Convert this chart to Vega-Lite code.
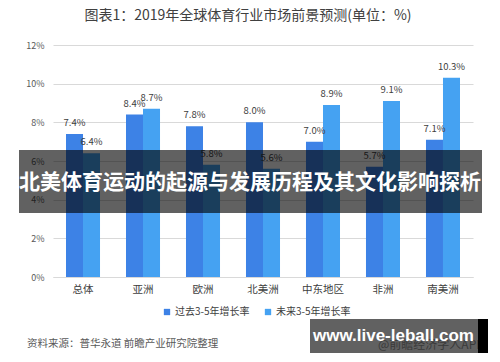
{
  "$schema": "https://vega.github.io/schema/vega-lite/v6.json",
  "autosize": "none",
  "width": 420,
  "height": 232,
  "padding": {"left": 53, "top": 45, "right": 27, "bottom": 85},
  "background": "white",
  "config": {
    "view": {"stroke": null},
    "font": "Noto Sans CJK SC",
    "axis": {"labelFont": "Noto Sans CJK SC"},
    "legend": {"labelFont": "Noto Sans CJK SC"}
  },
  "title": {
    "text": "图表1：2019年全球体育行业市场前景预测(单位：%)",
    "font": "Noto Sans CJK SC",
    "fontSize": 14,
    "fontWeight": "normal",
    "color": "#404040",
    "anchor": "middle",
    "frame": "group",
    "dx": -15,
    "offset": 18
  },
  "data": {
    "values": [
      {"region": "总体", "series": "过去3-5年增长率", "rate": 7.4},
      {"region": "总体", "series": "未来3-5年增长率", "rate": 6.4},
      {"region": "亚洲", "series": "过去3-5年增长率", "rate": 8.4},
      {"region": "亚洲", "series": "未来3-5年增长率", "rate": 8.7},
      {"region": "欧洲", "series": "过去3-5年增长率", "rate": 7.8},
      {"region": "欧洲", "series": "未来3-5年增长率", "rate": 5.8},
      {"region": "北美洲", "series": "过去3-5年增长率", "rate": 8.0},
      {"region": "北美洲", "series": "未来3-5年增长率", "rate": 5.6},
      {"region": "中东地区", "series": "过去3-5年增长率", "rate": 7.0},
      {"region": "中东地区", "series": "未来3-5年增长率", "rate": 8.9},
      {"region": "非洲", "series": "过去3-5年增长率", "rate": 5.7},
      {"region": "非洲", "series": "未来3-5年增长率", "rate": 9.1},
      {"region": "南美洲", "series": "过去3-5年增长率", "rate": 7.1},
      {"region": "南美洲", "series": "未来3-5年增长率", "rate": 10.3}
    ]
  },
  "encoding": {
    "x": {
      "field": "region",
      "type": "nominal",
      "sort": null,
      "scale": {"paddingInner": 0.433, "paddingOuter": 0.2167},
      "axis": {
        "title": null,
        "labelAngle": 0,
        "labelFontSize": 10.5,
        "labelColor": "#404040",
        "labelPadding": 7,
        "ticks": false,
        "domainColor": "#d9d9d9"
      }
    },
    "xOffset": {"field": "series", "type": "nominal", "sort": ["过去3-5年增长率", "未来3-5年增长率"]},
    "y": {
      "field": "rate",
      "type": "quantitative",
      "scale": {"domain": [0, 12], "nice": false},
      "axis": {
        "title": null,
        "values": [0, 2, 4, 6, 8, 10, 12],
        "labelExpr": "datum.value + '%'",
        "labelFontSize": 9,
        "labelColor": "#595959",
        "labelPadding": 9,
        "ticks": false,
        "domain": false,
        "gridColor": "#d9d9d9"
      }
    }
  },
  "layer": [
    {
      "mark": {"type": "bar"},
      "encoding": {
        "color": {
          "field": "series",
          "type": "nominal",
          "sort": ["过去3-5年增长率", "未来3-5年增长率"],
          "scale": {"range": ["#3d82e6", "#45a2f2"]},
          "legend": {
            "title": null,
            "orient": "none",
            "legendX": 109,
            "legendY": 262,
            "direction": "horizontal",
            "columns": 2,
            "columnPadding": 13,
            "symbolType": "square",
            "symbolSize": 40,
            "symbolStrokeWidth": 0,
            "labelFontSize": 10,
            "labelColor": "#404040",
            "labelOffset": 3
          }
        }
      }
    },
    {
      "transform": [{"calculate": "format(datum.rate, '.1f') + '%'", "as": "label"}],
      "mark": {"type": "text", "baseline": "middle", "dy": -11, "fontSize": 9.5, "color": "#404040"},
      "encoding": {
        "text": {"field": "label", "type": "nominal"}
      }
    },
    {
      "data": {"values": [{"note": "资料来源：普华永道 前瞻产业研究院整理"}]},
      "mark": {"type": "text", "align": "left", "baseline": "middle", "fontSize": 10.5, "color": "#595959"},
      "encoding": {
        "x": {"value": -26},
        "y": {"value": 299},
        "xOffset": null,
        "text": {"field": "note"}
      }
    },
    {
      "data": {"values": [{"note": "@前瞻经济学人APP"}]},
      "mark": {"type": "text", "align": "left", "baseline": "middle", "fontSize": 12, "color": "#9a9a9a"},
      "encoding": {
        "x": {"value": 325},
        "y": {"value": 300},
        "xOffset": null,
        "text": {"field": "note"}
      }
    },
    {
      "data": {"values": [{"note": "banner"}]},
      "mark": {"type": "rect", "color": "#000000", "opacity": 0.62},
      "encoding": {
        "x": {"value": -34},
        "x2": {"value": 429},
        "y": {"value": 105},
        "y2": {"value": 168},
        "xOffset": null
      }
    },
    {
      "data": {"values": [{"note": "北美体育运动的起源与发展历程及其文化影响探析"}]},
      "mark": {"type": "text", "align": "center", "baseline": "middle", "fontSize": 21, "fontWeight": "bold", "color": "#ffffff"},
      "encoding": {
        "x": {"value": 197},
        "y": {"value": 138},
        "xOffset": null,
        "text": {"field": "note"}
      }
    },
    {
      "data": {"values": [{"note": "box"}]},
      "mark": {"type": "rect", "color": "#000000", "opacity": 0.62},
      "encoding": {
        "x": {"value": 257},
        "x2": {"value": 425},
        "y": {"value": 274},
        "y2": {"value": 308},
        "xOffset": null
      }
    },
    {
      "data": {"values": [{"note": "strip"}]},
      "mark": {"type": "rect", "color": "#000000", "opacity": 1},
      "encoding": {
        "x": {"value": 425},
        "x2": {"value": 435},
        "y": {"value": 274},
        "y2": {"value": 308},
        "xOffset": null
      }
    },
    {
      "data": {"values": [{"note": "www.live-leball.com"}]},
      "mark": {"type": "text", "align": "left", "baseline": "middle", "font": "Liberation Sans", "fontSize": 17, "fontWeight": "bold", "color": "#ffffff"},
      "encoding": {
        "x": {"value": 260},
        "y": {"value": 291},
        "xOffset": null,
        "text": {"field": "note"}
      }
    }
  ]
}
